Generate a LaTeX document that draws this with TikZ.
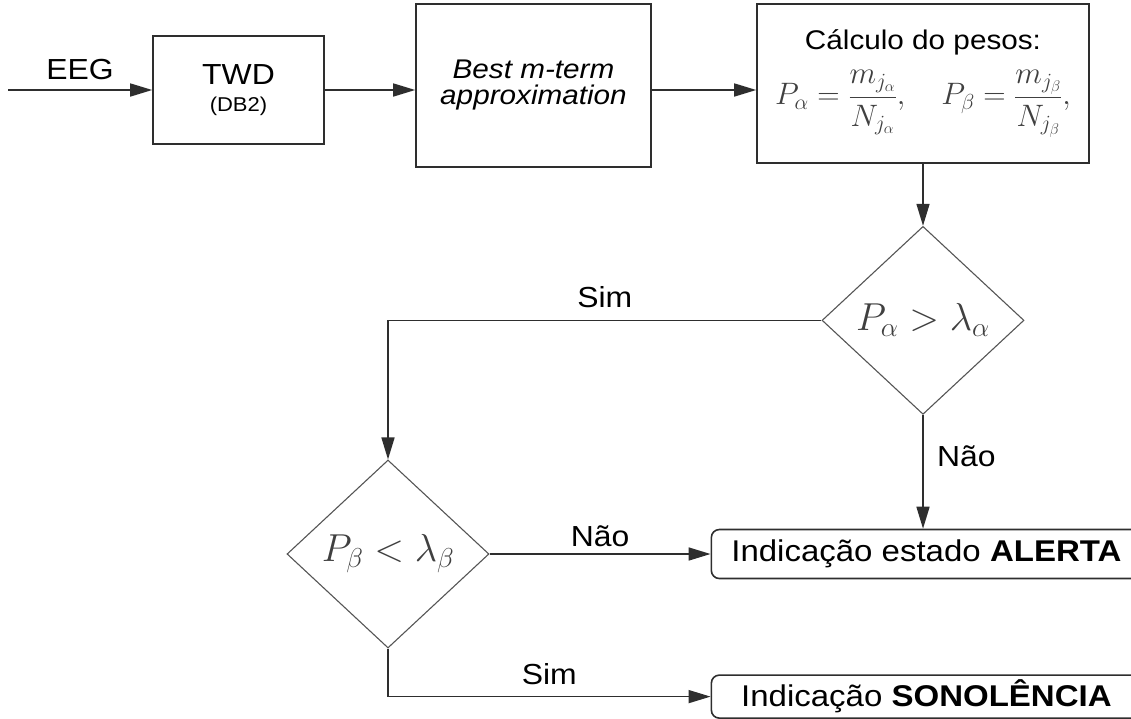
\documentclass[tikz,border=0pt]{standalone}
\usepackage{fix-cm}
\usepackage{fontspec}
\setmainfont{Liberation Sans}[FakeStretch=1.1]
\usetikzlibrary{shapes.geometric,arrows.meta,positioning}
\definecolor{linha}{HTML}{2E2E2E}
\definecolor{cinza}{HTML}{555555}
\definecolor{formula}{HTML}{404040}
\begin{document}
\begin{tikzpicture}[x=1pt, y=-1pt, node distance=60pt]
    \tikzstyle{bloco} = [rectangle, draw=linha, line width=1.6pt, align=center, inner sep=0pt]
    \tikzstyle{decisao} = [diamond, draw=cinza, line width=1.1pt, minimum width=202pt, minimum height=188pt, inner sep=0pt, text=formula, font=\fontsize{39}{42}\selectfont]
    \tikzstyle{saida} = [rectangle, rounded corners=8pt, draw=linha, line width=1.6pt, minimum width=430pt, font=\fontsize{30}{34}\selectfont]
    \tikzstyle{rotulo} = [font=\fontsize{29}{32}\selectfont]
    \tikzstyle{arrow} = [line width=1.6pt, draw=linha, -{Triangle[length=22pt,width=13pt]}]

    \clip (0,0) rectangle (1131,718);

    % Input
    \coordinate (entrada) at (8,90);

    % Processing blocks
    \node [bloco, minimum width=171pt, minimum height=108pt, font=\fontsize{29}{27}\selectfont] (twd) at (238.5,90) {TWD\\{\fontsize{20}{27}\selectfont (DB2)}};
    \node [bloco, minimum width=235pt, minimum height=163pt, font=\fontsize{27}{26}\selectfont\itshape] (best) at (533.5,85.5) {Best m-term\\approximation};
    \node [bloco, minimum width=332pt, minimum height=159pt, font=\fontsize{27}{30}\selectfont] (calc) at (923,83.5) {C\'alculo do pesos:\\[14pt]{\fontsize{31}{34}\selectfont\color{formula}$\displaystyle P_\alpha=\frac{m_{j_\alpha}}{N_{j_\alpha}},\quad P_\beta=\frac{m_{j_\beta}}{N_{j_\beta}},$}};

    % Decisions
    \node [decisao, below=62pt of calc] (d1) {$P_\alpha>\lambda_\alpha$};
    \node [decisao] (d2) at (388,554) {$P_\beta<\lambda_\beta$};

    % Outputs
    \node [saida, minimum height=49pt, right=221pt of d2] (alerta) {Indica\c{c}\~ao estado \textbf{ALERTA}};
    \node [saida, minimum height=43pt, below=95pt of alerta] (sono) {Indica\c{c}\~ao \textbf{SONOL\^ENCIA}};

    \draw [arrow] (entrada) -- (twd) node [rotulo, midway, above=6pt] {EEG};
    \draw [arrow] (twd.east) -- (twd.east -| best.west);
    \draw [arrow] (best.east |- twd.east) -- (twd.east -| calc.west);
    \draw [arrow] (calc) -- (d1);
    \draw [arrow] (d1.west) -| (d2.north) node [rotulo, pos=.25, above=8pt] {Sim};
    \draw [arrow] (d1.south) -- (d1.south |- alerta.north) node [rotulo, pos=.36, right=10pt] {N\~ao};
    \draw [arrow] (d2) -- (alerta) node [rotulo, midway, above=3pt] {N\~ao};
    \draw [arrow] (d2.south) |- (sono) node [rotulo, pos=.75, above=8pt] {Sim};
\end{tikzpicture}
\end{document}
